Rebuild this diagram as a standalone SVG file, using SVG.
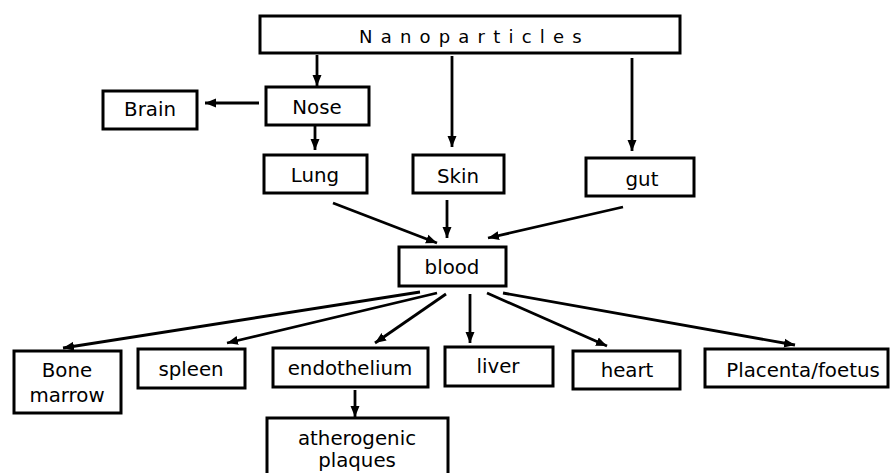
<svg xmlns="http://www.w3.org/2000/svg" width="890" height="473" viewBox="0 0 890 473">
<style>
.box{fill:#fff;stroke:#000;stroke-width:3}
.t{font-family:"DejaVu Sans",Verdana,sans-serif;font-size:19.8px;fill:#000;text-anchor:middle}
.np{font-family:"DejaVu Sans",Verdana,sans-serif;font-size:18px;fill:#000;letter-spacing:8.2px}
.c{stroke:#000;stroke-width:2.8;fill:none;marker-end:url(#ah)}
</style>
<defs>
<marker id="ah" markerUnits="userSpaceOnUse" markerWidth="12" markerHeight="12" viewBox="0 0 12 12" refX="11" refY="6" orient="auto">
<path d="M0,1.5 L11,6 L0,10.5 Z" fill="#000"/>
</marker>
</defs>
<rect width="890" height="473" fill="#fff"/>
<g id="connectors">
<line class="c" x1="317" y1="55" x2="317" y2="86"/>
<line class="c" x1="452" y1="56" x2="452" y2="147"/>
<line class="c" x1="632" y1="58" x2="632" y2="151"/>
<line class="c" x1="259" y1="103" x2="205" y2="103"/>
<line class="c" x1="315" y1="126" x2="315" y2="150"/>
<line class="c" x1="333" y1="203" x2="437" y2="243"/>
<line class="c" x1="447" y1="200" x2="447" y2="238"/>
<line class="c" x1="623" y1="207" x2="488" y2="238"/>
<line class="c" x1="420" y1="292" x2="63" y2="348"/>
<line class="c" x1="437" y1="293" x2="227" y2="343"/>
<line class="c" x1="446" y1="294" x2="375" y2="343"/>
<line class="c" x1="470" y1="294" x2="470" y2="343"/>
<line class="c" x1="487" y1="293" x2="607" y2="346"/>
<line class="c" x1="503" y1="293" x2="795" y2="345"/>
<line class="c" x1="355" y1="390" x2="355" y2="417"/>
</g>
<g id="nanoparticles"><rect class="box" x="260" y="16" width="420" height="37"/><text class="np" x="359" y="43">Nanoparticles</text></g>
<g id="brain"><rect class="box" x="103" y="91" width="94" height="38"/><text class="t" x="150" y="116">Brain</text></g>
<g id="nose"><rect class="box" x="266" y="87" width="103" height="38"/><text class="t" x="317" y="114">Nose</text></g>
<g id="lung"><rect class="box" x="264" y="155" width="103" height="38"/><text class="t" x="315" y="182">Lung</text></g>
<g id="skin"><rect class="box" x="413" y="155" width="91" height="38"/><text class="t" x="458" y="183">Skin</text></g>
<g id="gut"><rect class="box" x="586" y="158" width="108" height="38"/><text class="t" x="642" y="186">gut</text></g>
<g id="blood"><rect class="box" x="399" y="247" width="107" height="39"/><text class="t" x="452" y="274">blood</text></g>
<g id="bone-marrow"><rect class="box" x="14" y="351" width="107" height="62"/><text class="t" x="67" y="377">Bone</text><text class="t" x="67" y="402">marrow</text></g>
<g id="spleen"><rect class="box" x="138" y="349" width="107" height="39"/><text class="t" x="191" y="376">spleen</text></g>
<g id="endothelium"><rect class="box" x="273" y="348" width="155" height="39"/><text class="t" x="350" y="375">endothelium</text></g>
<g id="liver"><rect class="box" x="445" y="347" width="108" height="39"/><text class="t" x="498" y="373">liver</text></g>
<g id="heart"><rect class="box" x="573" y="351" width="107" height="38"/><text class="t" x="627" y="377">heart</text></g>
<g id="placenta"><rect class="box" x="705" y="349" width="183" height="38"/><text class="t" x="803" y="377">Placenta/foetus</text></g>
<g id="plaques"><rect class="box" x="267" y="418" width="181" height="62"/><text class="t" x="357" y="445">atherogenic</text><text class="t" x="357" y="467">plaques</text></g>
</svg>
